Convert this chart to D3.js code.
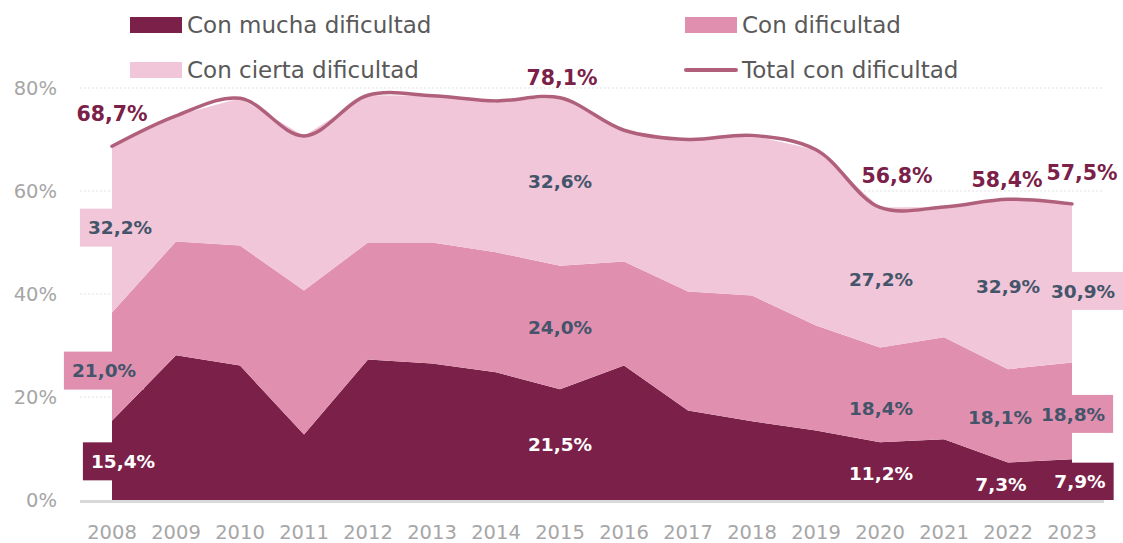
<!DOCTYPE html>
<html>
<head>
<meta charset="utf-8">
<script src="https://cdn.jsdelivr.net/npm/d3@7"></script>
<style>
  body { margin: 0; background: #fff; }
  svg { display: block; font-family: "DejaVu Sans", sans-serif; }
</style>
</head>
<body>
<div id="chart"></div>
<script>
// --- data ---
const years = [2008, 2009, 2010, 2011, 2012, 2013, 2014, 2015, 2016, 2017, 2018, 2019, 2020, 2021, 2022, 2023];
const muchaDificultad = [15.4, 28.1, 26.1, 12.7, 27.3, 26.5, 24.8, 21.5, 26.1, 17.4, 15.3, 13.5, 11.2, 11.8, 7.3, 7.9];
const conDificultad = [21.0, 22.1, 23.3, 28.0, 22.7, 23.5, 23.3, 24.0, 20.2, 23.1, 24.4, 20.4, 18.4, 19.8, 18.1, 18.8];
const ciertaDificultad = [32.2, 24.4, 28.6, 30.0, 28.6, 28.5, 29.4, 32.6, 25.5, 29.5, 31.1, 34.1, 27.2, 25.3, 32.9, 30.9];
const totalDificultad = [68.7, 74.6, 78.0, 70.7, 78.6, 78.5, 77.5, 78.1, 71.8, 70.0, 70.8, 68.0, 56.8, 56.9, 58.4, 57.5];
const labelYears = [2008, 2015, 2020, 2022, 2023];
const yTicks = [0, 20, 40, 60, 80];

const seriesKeys = ["mucha", "con", "cierta"];
const seriesNames = {
  mucha: "Con mucha dificultad",
  con: "Con dificultad",
  cierta: "Con cierta dificultad",
  total: "Total con dificultad"
};
const colors = { mucha: "#7b2048", con: "#e090ae", cierta: "#f0c6d8", total: "#b0607a" };
const labelColors = { mucha: "#ffffff", con: "#44546a", cierta: "#44546a", total: "#7b2048" };

// small hand nudges, Excel places some labels off-centre
const nudge = {
  "mucha-2008": [11, 1], "con-2008": [-8, 4], "cierta-2008": [8, -2],
  "con-2020": [1, 13], "cierta-2020": [1, 2], "mucha-2020": [1, 2],
  "con-2022": [-8, 2], "mucha-2022": [-7, 3], "cierta-2022": [0, 2],
  "con-2023": [1, 3], "mucha-2023": [8, 2], "cierta-2023": [11, 8],
  "total-2008": [0, -33], "total-2015": [2, -20], "total-2020": [17, -32],
  "total-2022": [-1, -20], "total-2023": [10, -31]
};

const width = 1123, height = 543;

const rows = years.map((yr, i) => ({
  year: yr,
  mucha: muchaDificultad[i],
  con: conDificultad[i],
  cierta: ciertaDificultad[i],
  total: totalDificultad[i]
}));

const svg = d3.select("#chart").append("svg")
  .attr("width", width)
  .attr("height", height);

// scales
const x = d3.scalePoint().domain(years).range([112, 1072]);
const y = d3.scaleLinear().domain([0, 80]).range([500, 88]);

const fmt = v => v.toFixed(1).replace(".", ",") + "%";

// gridlines
svg.append("g")
  .selectAll("line")
  .data(yTicks.filter(t => t > 0))
  .join("line")
  .attr("x1", 80).attr("x2", 1104)
  .attr("y1", d => y(d)).attr("y2", d => y(d))
  .attr("stroke", "#e3e3e3")
  .attr("stroke-width", 1)
  .attr("stroke-dasharray", "2,2");

// y tick labels
svg.append("g")
  .selectAll("text")
  .data(yTicks)
  .join("text")
  .attr("x", 57)
  .attr("y", d => y(d))
  .attr("dy", "0.36em")
  .attr("text-anchor", "end")
  .attr("fill", "#a6a6a6")
  .style("font-size", "19.5px")
  .text(d => d + "%");

// stacked areas
const stack = d3.stack().keys(seriesKeys);
const layers = stack(rows);

const area = d3.area()
  .x(d => x(d.data.year))
  .y0(d => y(d[0]))
  .y1(d => y(d[1]));

svg.append("g")
  .selectAll("path")
  .data(layers)
  .join("path")
  .attr("fill", d => colors[d.key])
  .attr("d", area);

// x tick labels
svg.append("g")
  .selectAll("text")
  .data(years)
  .join("text")
  .attr("x", d => x(d))
  .attr("y", 532)
  .attr("dy", "0.36em")
  .attr("text-anchor", "middle")
  .attr("fill", "#a6a6a6")
  .style("font-size", "19.5px")
  .text(d => d);

// total line (smoothed like Excel)
const line = d3.line()
  .x(d => x(d.year))
  .y(d => y(d.total))
  .curve(d3.curveCatmullRom.alpha(0.5));

svg.append("path")
  .datum(rows)
  .attr("fill", "none")
  .attr("stroke", colors.total)
  .attr("stroke-width", 3.5)
  .attr("stroke-linecap", "round")
  .attr("d", line);

// data labels on the areas
const labelData = [];
layers.forEach(layer => {
  layer.forEach(d => {
    if (!labelYears.includes(d.data.year)) return;
    const k = layer.key + "-" + d.data.year;
    const n = nudge[k] || [0, 0];
    labelData.push({
      key: layer.key,
      x: x(d.data.year) + n[0],
      y: y((d[0] + d[1]) / 2) + n[1],
      text: fmt(d.data[layer.key])
    });
  });
});

const labelG = svg.append("g");
labelData.forEach(l => {
  const g = labelG.append("g");
  const rect = g.append("rect").attr("fill", colors[l.key]);
  const t = g.append("text")
    .attr("x", l.x)
    .attr("y", l.y)
    .attr("dy", "0.36em")
    .attr("text-anchor", "middle")
    .attr("fill", labelColors[l.key])
    .style("font-size", "18.5px")
    .style("font-weight", "bold")
    .text(l.text);
  const bb = t.node().getBBox();
  rect.attr("x", bb.x - 8).attr("width", bb.width + 16)
    .attr("y", l.y - 19).attr("height", Math.min(38, y(0) - (l.y - 19)));
});

// baseline, on top of the label boxes
svg.append("line")
  .attr("x1", 80).attr("x2", 1104)
  .attr("y1", y(0) + 1.5).attr("y2", y(0) + 1.5)
  .attr("stroke", "#d9d9d9")
  .attr("stroke-width", 3);

// total labels
svg.append("g")
  .selectAll("text")
  .data(rows.filter(r => labelYears.includes(r.year)))
  .join("text")
  .attr("x", d => x(d.year) + (nudge["total-" + d.year] || [0, 0])[0])
  .attr("y", d => y(d.total) + (nudge["total-" + d.year] || [0, 0])[1])
  .attr("dy", "0.36em")
  .attr("text-anchor", "middle")
  .attr("fill", labelColors.total)
  .style("font-size", "20.5px")
  .style("font-weight", "bold")
  .text(d => fmt(d.total));

// legend
const legendItems = [
  { key: "mucha", x: 130, y: 25 },
  { key: "con", x: 685, y: 25 },
  { key: "cierta", x: 130, y: 70 },
  { key: "total", x: 685, y: 70 }
];
const legend = svg.append("g");
legendItems.forEach(it => {
  if (it.key === "total") {
    legend.append("line")
      .attr("x1", it.x + 1).attr("x2", it.x + 51)
      .attr("y1", it.y).attr("y2", it.y)
      .attr("stroke", colors.total)
      .attr("stroke-width", 4)
      .attr("stroke-linecap", "round");
  } else {
    legend.append("rect")
      .attr("x", it.x).attr("y", it.y - 8)
      .attr("width", 52).attr("height", 16)
      .attr("fill", colors[it.key]);
  }
  legend.append("text")
    .attr("x", it.x + 57)
    .attr("y", it.y)
    .attr("dy", "0.36em")
    .attr("fill", "#595959")
    .style("font-size", "23px")
    .text(seriesNames[it.key]);
});
</script>
</body>
</html>
